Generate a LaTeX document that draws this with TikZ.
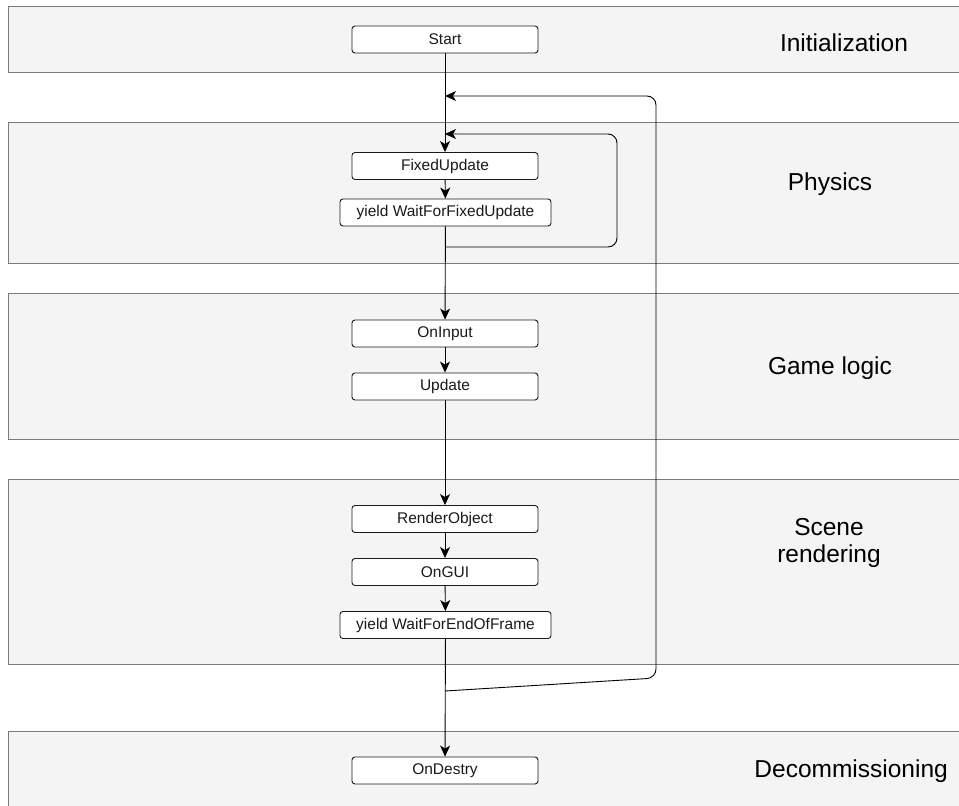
\documentclass[tikz,border=0pt]{standalone}
\usepackage{fontspec}
\setmainfont{Liberation Sans}
\usetikzlibrary{arrows.meta}
\definecolor{bandfill}{HTML}{F4F4F4}
\definecolor{bandline}{HTML}{7A7A7A}
\definecolor{ink}{HTML}{1A1A1A}
\tikzset{
  band/.style={fill=bandfill, draw=bandline, line width=1pt},
  stepbox/.style={draw=ink, fill=white, rounded corners=3pt, line width=0.9pt,
    minimum width=186pt, minimum height=27pt, inner sep=0pt, text=ink,
    font=\fontsize{15.5}{18}\selectfont},
  widebox/.style={stepbox, minimum width=211pt},
  phase/.style={text=black, font=\fontsize{24.5}{27}\selectfont, align=center, inner sep=0pt},
  flow/.style={draw=black, line width=0.9pt,
    -{Stealth[length=11pt,width=10pt,inset=3pt]}},
  backpath/.style={flow, rounded corners=9pt},
}
\begin{document}
\begin{tikzpicture}[x=1pt,y=-1pt]
\useasboundingbox (0,0) rectangle (959,806);
\begin{scope}
\clip (0,0) rectangle (959,806);
% phase bands
\draw[band] (8,6) rectangle (975,72);
\draw[band] (8,122) rectangle (975,263);
\draw[band] (8,293) rectangle (975,439);
\draw[band] (8,479) rectangle (975,664);
\draw[band] (8,731) rectangle (975,820);
\end{scope}

% phase labels
\node[phase] (lInit) at (844,43) {Initialization};
\node[phase] (lPhys) at (830,184) {Physics};
\node[phase] (lGame) at (830,368) {Game logic};
\node[phase] (lScene) at (829,543) {Scene\\rendering};
\node[phase, anchor=east] (lDec) at (948,771.5) {Decommissioning};

% steps
\node[stepbox] (start) at (445,39.5) {Start};
\node[stepbox] (fixed) at (445,166) {FixedUpdate};
\node[widebox] (waitfixed) at (445.5,212.5) {yield WaitForFixedUpdate};
\node[stepbox] (input) at (445,333.5) {OnInput};
\node[stepbox] (update) at (445,386.5) {Update};
\node[stepbox] (render) at (445,519) {RenderObject};
\node[stepbox] (gui) at (445,572) {OnGUI};
\node[widebox] (waitend) at (445.5,625) {yield WaitForEndOfFrame};
\node[stepbox] (destroy) at (445,770.5) {OnDestry};

% loop anchor points on the main line
\coordinate (outerIn) at (445,96);
\coordinate (innerIn) at (445,134);
\coordinate (innerOut) at (445,247);
\coordinate (outerOut) at (445,691);

% main flow
\draw[flow] (start) -- (fixed);
\draw[flow] (fixed) -- (waitfixed);
\draw[flow] (waitfixed) -- (input);
\draw[flow] (input) -- (update);
\draw[flow] (update) -- (render);
\draw[flow] (render) -- (gui);
\draw[flow] (gui) -- (waitend);
\draw[flow] (waitend) -- (destroy);

% fixed-step loop
\draw[backpath] (innerOut) -- (617,247) -- (617,134) -- (innerIn);
% frame loop
\draw[backpath] (outerOut) -- (656,678) -- (656,96) -- (outerIn);
\end{tikzpicture}
\end{document}
